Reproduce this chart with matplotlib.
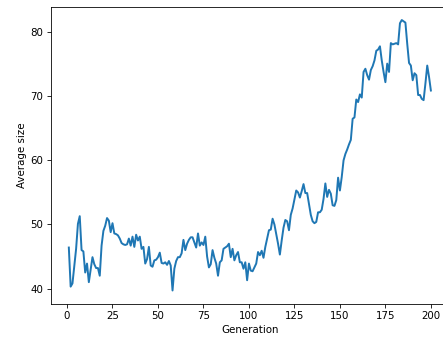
import numpy as np
import matplotlib
matplotlib.use("Agg")
import matplotlib.pyplot as plt

# Average size per generation
avg_size = [
    46.4, 40.3, 40.8, 43.5, 46.2, 50.1, 51.3, 46.0, 45.8, 42.5,
    43.9, 41.0, 43.0, 44.9, 43.8, 43.2, 43.2, 42.0, 46.7, 49.0,
    49.8, 51.0, 50.6, 48.8, 50.2, 48.6, 48.5, 48.3, 47.8, 47.1,
    46.9, 46.8, 46.9, 47.8, 46.7, 48.1, 46.5, 48.4, 47.5, 48.1,
    46.2, 46.5, 43.9, 44.6, 46.5, 43.6, 43.4, 44.4, 44.5, 44.9,
    45.6, 44.0, 43.9, 44.1, 43.7, 44.3, 43.6, 39.7, 43.1, 44.3,
    44.9, 44.9, 45.5, 47.6, 46.0, 47.0, 47.6, 48.0, 48.0, 47.2,
    46.4, 48.6, 46.7, 47.2, 46.8, 48.1, 45.0, 43.3, 43.8, 46.0,
    44.8, 43.9, 42.0, 44.1, 44.4, 46.2, 46.4, 46.6, 47.0, 44.9,
    46.2, 44.4, 45.2, 45.7, 44.1, 44.1, 43.1, 44.1, 41.3, 43.9,
    42.8, 42.7, 43.3, 43.9, 45.7, 45.2, 45.9, 44.8, 46.5, 47.8,
    49.1, 49.2, 50.9, 50.0, 48.5, 47.0, 45.3, 47.5, 49.5, 50.7,
    50.5, 49.1, 51.5, 52.5, 53.9, 55.3, 55.0, 54.2, 55.2, 56.3,
    54.9, 54.9, 53.2, 51.5, 50.5, 50.2, 50.4, 51.9, 51.9, 52.3,
    54.0, 56.4, 54.3, 55.4, 54.8, 53.0, 52.9, 53.8, 57.3, 55.3,
    57.4, 60.0, 61.0, 61.7, 62.5, 63.2, 66.5, 66.7, 69.5, 69.1,
    70.3, 69.8, 73.8, 74.3, 73.3, 72.6, 74.1, 74.7, 75.6, 77.1,
    77.3, 77.8, 75.6, 73.8, 72.2, 75.1, 73.8, 78.3, 78.1, 78.2,
    78.3, 78.1, 81.4, 81.9, 81.7, 81.5, 78.2, 75.2, 74.8, 72.5,
    73.6, 73.3, 70.2, 70.2, 69.6, 69.4, 72.0, 74.8, 73.0, 70.9,
]
generations = np.arange(1, len(avg_size) + 1)

dpi = 74
fig, ax = plt.subplots(figsize=(443 / dpi, 343 / dpi), dpi=dpi)
ax.plot(generations, avg_size, color="tab:blue", linewidth=1.9)
ax.set_xlabel("Generation")
ax.set_ylabel("Average size")
ax.set_xticks(np.arange(0, 201, 25))

# the right spine sits just past the image edge in the reference
plt.subplots_adjust(left=0.1145, right=1.0135, top=0.981, bottom=0.1137)
plt.savefig("out.png", dpi=dpi)
